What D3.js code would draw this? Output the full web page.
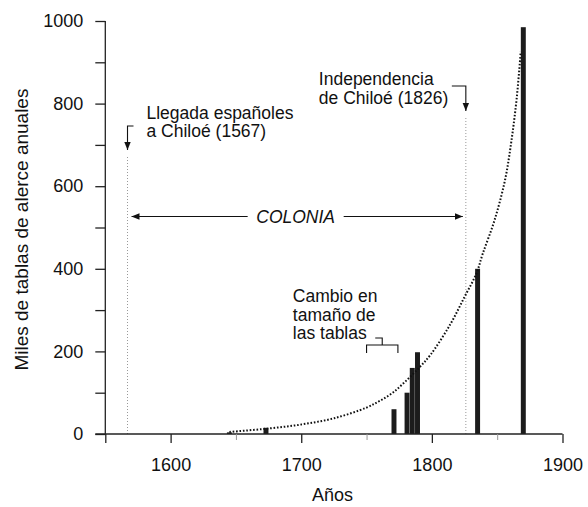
<!DOCTYPE html>
<html lang="es">
<head>
    <meta charset="UTF-8">
    <title>alerce</title>
    <script src="https://d3js.org/d3.v7.min.js"></script>
    <style>
        body { margin: 0; background: #fff; }
        text { font-family: "Liberation Sans", Arial, sans-serif; fill: #111; }
    </style>
</head>
<body>
    <svg></svg>
    <script>
        // bars: thousands of alerce boards per year
        const barYears = [1645, 1673, 1771, 1781, 1785, 1789, 1835, 1870];
        const barValues = [4, 15, 60, 100, 160, 198, 400, 985];

        // dotted trend line
        const trendYears = [1645, 1674, 1700, 1725, 1750, 1760, 1770, 1780, 1791, 1799, 1814, 1825, 1834, 1839, 1848, 1856, 1861, 1865, 1868];
        const trendValues = [5, 13, 23, 38, 64, 80, 100, 128, 163, 192, 265, 332, 388, 437, 518, 615, 712, 815, 925];

        const xMajor = [1550, 1600, 1700, 1800, 1900];
        const xMinor = [1650, 1750, 1850];
        const yTicks = [0, 100, 200, 300, 400, 500, 600, 700, 800, 900, 1000];

        const events = [
            {year: 1567, lines: ["Llegada españoles", "a Chiloé (1567)"]},
            {year: 1826, lines: ["Independencia", "de Chiloé (1826)"]}
        ];
        const cambio = ["Cambio en", "tamaño de", "las tablas"];

        const svgWidth = 588;
        const svgHeight = 507;
        const margin = {top: 21, right: 25.5, bottom: 73, left: 105.3};
        const width = svgWidth - margin.left - margin.right;
        const height = svgHeight - margin.top - margin.bottom;
        const fs = 17.5;
        const lh = 18.5;

        const svg = d3.select('svg')
            .attr("width", svgWidth)
            .attr("height", svgHeight);

        svg.append("defs").append("marker")
            .attr("id", "head")
            .attr("viewBox", "0 0 10 10")
            .attr("refX", 10).attr("refY", 5)
            .attr("markerWidth", 8).attr("markerHeight", 8)
            .attr("markerUnits", "userSpaceOnUse")
            .attr("orient", "auto")
            .append("path")
            .attr("d", "M0,1 L10,5 L0,9 Z")
            .attr("fill", "#111");

        const g = svg.append('g')
            .attr("transform", `translate(${margin.left},${margin.top})`);

        const x = d3.scaleLinear().domain([1550, 1900]).range([0, width]);
        const y = d3.scaleLinear().domain([0, 1000]).range([height, 0]);

        // event guide lines (dotted, grey)
        const evTop = {1567: 136, 1826: 97};
        g.selectAll(".guide")
            .data(events)
            .enter().append("line")
            .attr("x1", d => x(d.year)).attr("x2", d => x(d.year))
            .attr("y1", d => evTop[d.year]).attr("y2", height)
            .attr("stroke", "#999")
            .attr("stroke-width", 1)
            .attr("stroke-dasharray", "1,2");

        // bars
        g.selectAll(".bar")
            .data(barYears.map((yr, i) => ({year: yr, value: barValues[i]})))
            .enter().append("rect")
            .attr("x", d => x(d.year - 1.9))
            .attr("width", d => x(d.year + 1.9) - x(d.year - 1.9))
            .attr("y", d => y(d.value))
            .attr("height", d => height - y(d.value))
            .attr("fill", "#1c1c1c");

        // trend line
        const line = d3.line()
            .x(d => x(d[0]))
            .y(d => y(d[1]))
            .curve(d3.curveCatmullRom.alpha(0.5));
        g.append("path")
            .datum(trendYears.map((yr, i) => [yr, trendValues[i]]))
            .attr("d", line)
            .attr("fill", "none")
            .attr("stroke", "#111")
            .attr("stroke-width", 2)
            .attr("stroke-dasharray", "1.6,1.8");

        // axes
        const yAxis = d3.axisLeft(y).tickValues(yTicks).tickSize(10).tickPadding(12)
            .tickFormat(d => d % 200 === 0 ? d : "");
        const yg = g.append("g").call(yAxis);

        const xAxis = d3.axisBottom(x).tickValues(xMajor).tickSize(9).tickPadding(15)
            .tickFormat(d => d === 1550 ? "" : d);
        const xg = g.append("g").attr("transform", `translate(0,${height})`).call(xAxis);

        const xMin = d3.axisBottom(x).tickValues(xMinor).tickSize(6).tickFormat("");
        const xmg = g.append("g").attr("transform", `translate(0,${height})`).call(xMin);
        xmg.select(".domain").remove();
        xmg.selectAll("line").attr("stroke", "#999");

        [yg, xg].forEach(a => {
            a.select(".domain").attr("stroke", "#222").attr("stroke-width", 1.3);
            a.selectAll(".tick line").attr("stroke", "#222").attr("stroke-width", 1.3);
            a.selectAll("text").style("font-size", "18px").attr("fill", "#111");
        });
        yg.select(".domain").attr("d", `M0,0V${height}`);
        xg.select(".domain").attr("d", `M-10,0H${width}`);

        // axis titles
        g.append("text")
            .attr("x", x(1724)).attr("y", height + 67)
            .attr("text-anchor", "middle")
            .style("font-size", "18px")
            .text("Años");
        g.append("text")
            .attr("transform", `translate(${-margin.left + 28},${y(495)}) rotate(-90)`)
            .attr("text-anchor", "middle")
            .style("font-size", "19px")
            .text("Miles de tablas de alerce anuales");

        // event labels with hooked arrows
        const x1 = x(1567), x2 = x(1826);
        g.selectAll(".ev1")
            .data(events[0].lines)
            .enter().append("text")
            .attr("x", x1 + 19).attr("y", (d, i) => 97.5 + i * lh)
            .style("font-size", fs + "px")
            .text(d => d);
        g.append("path")
            .attr("d", `M${x1 + 6},105 H${x1} V129`)
            .attr("fill", "none").attr("stroke", "#111").attr("stroke-width", 1.1)
            .attr("marker-end", "url(#head)");

        g.selectAll(".ev2")
            .data(events[1].lines)
            .enter().append("text")
            .attr("x", x2 - 147).attr("y", (d, i) => 64 + i * lh)
            .style("font-size", fs + "px")
            .text(d => d);
        g.append("path")
            .attr("d", `M${x2 - 14},65 H${x2} V90`)
            .attr("fill", "none").attr("stroke", "#111").attr("stroke-width", 1.1)
            .attr("marker-end", "url(#head)");

        // COLONIA double arrow
        const cy = 195.5;
        const cx = (x1 + x2) / 2;
        g.append("line")
            .attr("x1", cx - 49).attr("x2", x1 + 4).attr("y1", cy).attr("y2", cy)
            .attr("stroke", "#111").attr("stroke-width", 1.1).attr("marker-end", "url(#head)");
        g.append("line")
            .attr("x1", cx + 47).attr("x2", x2 - 3).attr("y1", cy).attr("y2", cy)
            .attr("stroke", "#111").attr("stroke-width", 1.1).attr("marker-end", "url(#head)");
        g.append("text")
            .attr("x", cx - 1).attr("y", cy + 6.5)
            .attr("text-anchor", "middle")
            .style("font-size", fs + "px").style("font-style", "italic")
            .text("COLONIA");

        // "Cambio en tamaño de las tablas" with bracket
        g.selectAll(".cambio")
            .data(cambio)
            .enter().append("text")
            .attr("x", 187.5).attr("y", (d, i) => 281 + i * lh)
            .style("font-size", fs + "px")
            .text(d => d);
        const bx1 = x(1750), bx2 = x(1774), bm = (bx1 + bx2) / 2;
        g.append("path")
            .attr("d", `M${bm - 7},317 H${bm} V324 M${bx1},332 V324 H${bx2} V332`)
            .attr("fill", "none").attr("stroke", "#111").attr("stroke-width", 1.1);
    </script>
</body>
</html>
